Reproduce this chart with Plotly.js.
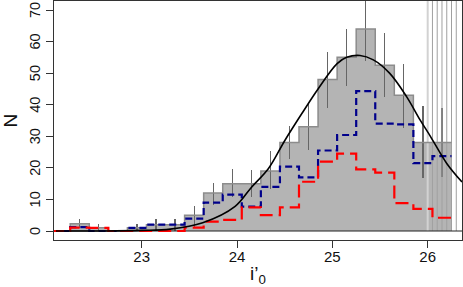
<!DOCTYPE html>
<html><head><meta charset="utf-8">
<script src="https://cdn.plot.ly/plotly-3.0.1.min.js"></script>
<style>html,body{margin:0;padding:0;background:#fff;}#chart{width:463px;height:287px;}</style>
</head><body><div id="chart"></div>
<script>
// ---- data ----
const binCenters = [22.15,22.35,22.55,22.75,22.95,23.15,23.35,23.55,23.75,23.95,24.15,24.35,24.55,24.75,24.95,25.15,25.35,25.55,25.75,25.95,26.15];
const binWidth = 0.2;
const totalCounts = [0,2.3,1,0,1,2,2,5,12,15,15,19,28,33,48,55,64,52.5,43,28,28];
const errLow  = [0,1.0,0,0,0,0,0,0.8,8.3,10.9,10.9,13.2,22.8,25.8,38.9,45.9,53.8,42.5,32.5,16.7,17.0];
const errHigh = [0,3.8,2.2,0,2.2,3.7,3.7,7.9,15.3,19.5,19.4,25.2,33.2,40.6,56.6,63.9,74.0,62.6,52.9,39.6,38.9];
const blueCounts = [0,1.2,0,0,1,2,2,3.9,9,11.5,7.7,14,20.4,17,25.5,30.4,44.3,34,33.8,21.5,23.7];
const redCounts  = [0,1.1,1,0,0,0,0,1.1,3,3.5,7.5,5,7.5,15.6,22,24.5,19.5,18.5,8.8,7,4.2];
const fitX = [22.1,22.6,23.0,23.3,23.64,23.98,24.15,24.33,24.5,24.68,24.85,25.05,25.15,25.29,25.43,25.6,25.78,25.92,26.03,26.2,26.36];
const fitY = [0,0.02,0.2,0.6,2.6,7.8,13.8,19.8,28.6,37.2,45.0,53.0,55.0,55.6,54.2,50.0,42.5,35.2,29.9,21.4,15.5];
const limitLines = [26.0,26.05,26.10,26.15,26.20,26.25,26.30];
const xTicks = [23,24,25,26];
const yTicks = [0,10,20,30,40,50,60,70];
const xRange = [22.08,26.36];
const yRange = [-2.85,72.85];
const xTitle = 'i’<sub>0</sub>';
const yTitle = 'N';

// ---- helpers ----
function stepXY(vals){
  const xs = binCenters.map(c => c - binWidth/2);
  xs.push(binCenters[binCenters.length-1] + binWidth/2);
  const ys = vals.slice(); ys.push(vals[vals.length-1]);
  return {x: xs, y: ys};
}
const errPlus = totalCounts.map((v,i) => errHigh[i] > 0 ? errHigh[i]-v : null);
const errMinus = totalCounts.map((v,i) => errHigh[i] > 0 ? v-errLow[i] : null);

function vlineXY(list){
  const x=[], y=[];
  list.forEach(v => { x.push(v,v,null); y.push(0,yRange[1],null); });
  return {x,y};
}
const vFirst = vlineXY(limitLines.slice(0,1));
const vRest = vlineXY(limitLines.slice(1));
const gStep = stepXY(totalCounts), bStep = stepXY(blueCounts), rStep = stepXY(redCounts);

const font = 'Liberation Sans, Arial, Helvetica, sans-serif';
const traces = [
  {type:'bar', x: binCenters, y: totalCounts, width: binWidth,
   marker:{color:'#b4b4b4', line:{width:0}}, hoverinfo:'skip',
   error_y:{type:'data', symmetric:false, array: errPlus, arrayminus: errMinus,
            color:'#666666', thickness:1.2, width:0}},
  {type:'scatter', mode:'lines', x: vFirst.x, y: vFirst.y, line:{color:'#d2d2d2', width:2}, hoverinfo:'skip'},
  {type:'scatter', mode:'lines', x: vRest.x, y: vRest.y, line:{color:'#a0a0a0', width:1}, hoverinfo:'skip'},
  {type:'scatter', mode:'lines', x: xRange, y:[0,0], line:{color:'#222', width:1}, hoverinfo:'skip'},
  {type:'scatter', mode:'lines', x: gStep.x, y: gStep.y, line:{shape:'hv', color:'#8c8c8c', width:1.5}, hoverinfo:'skip'},
  {type:'scatter', mode:'lines', x: bStep.x, y: bStep.y, line:{shape:'hv', color:'#00008b', width:2.2, dash:'7px,4px'}, hoverinfo:'skip'},
  {type:'scatter', mode:'lines', x: rStep.x, y: rStep.y, line:{shape:'hv', color:'#ff0000', width:2.2, dash:'13px,6px'}, hoverinfo:'skip'},
  {type:'scatter', mode:'lines', x: fitX, y: fitY, line:{shape:'spline', color:'#000', width:1.6}, hoverinfo:'skip'}
];

// rotated y tick labels (R style, reading bottom-to-top)
const anns = yTicks.map(v => ({
  xref:'paper', yref:'y', x:0, y:v, xanchor:'center', yanchor:'middle', xshift:-19,
  text:String(v), textangle:-90, showarrow:false,
  font:{size:14.5, family:font, color:'#111'}
}));
// x-axis title placed below the tick labels
anns.push({xref:'paper', yref:'paper', x:0.5, y:0, xanchor:'center', yanchor:'middle', yshift:-35,
  text:xTitle, showarrow:false, font:{size:19, family:font, color:'#111'}});

const layout = {
  width:463, height:287,
  margin:{l:54, r:1, t:1, b:47},
  paper_bgcolor:'#fff', plot_bgcolor:'#fff',
  showlegend:false, bargap:0,
  font:{family:font, color:'#111'},
  annotations: anns,
  xaxis:{range:xRange, tickvals:xTicks, ticktext:xTicks.map(String), ticks:'outside', ticklen:7, tickwidth:1,
         tickcolor:'#333', showline:true, mirror:true, linecolor:'#333', linewidth:1,
         showgrid:false, zeroline:false, tickfont:{size:15, family:font, color:'#111'}, ticklabelstandoff:-4},
  yaxis:{range:yRange, tickvals:yTicks, ticks:'outside', ticklen:7, tickwidth:1,
         tickcolor:'#333', showline:true, mirror:true, linecolor:'#333', linewidth:1,
         showticklabels:false, showgrid:false, zeroline:false,
         title:{text:yTitle, font:{size:19, family:font, color:'#111'}, standoff:26}}
};
Plotly.newPlot('chart', traces, layout, {staticPlot:true, displayModeBar:false});
</script>
</body></html>
